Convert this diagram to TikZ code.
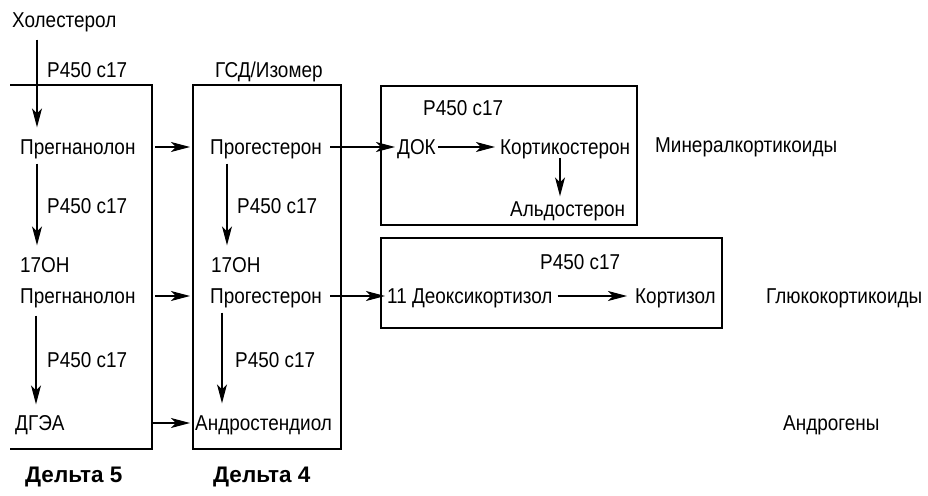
\documentclass[tikz,border=0pt]{standalone}
\usepackage{fontspec}
\setmainfont{Liberation Sans}[FakeStretch=0.88]
\newfontfamily\dfont{Liberation Sans}
\usetikzlibrary{arrows.meta}
\tikzset{
  txt/.style={anchor=west,inner sep=0pt,text height=15pt,text depth=0pt,font=\fontsize{21.5}{24}\selectfont},
  bold/.style={anchor=west,inner sep=0pt,text height=15pt,text depth=0pt,font=\dfont\bfseries\fontsize{22.5}{26}\selectfont},
  box/.style={line width=1.8pt},
  arr/.style={line width=1.1pt,-{Stealth[length=19pt,width=10pt,inset=5pt]}},
  varr/.style={arr,shorten <=9pt,shorten >=12pt}
}
\begin{document}
\begin{tikzpicture}[x=1pt,y=-1pt]
\useasboundingbox (0,0) rectangle (928,495);
% boxes
\draw[box] (10,85) -- (152,85) -- (152,449) -- (10,449);
\draw[box] (193,85) rectangle (341,449);
\draw[box] (381,86) rectangle (637,225);
\draw[box] (381,238) rectangle (722,328);
% column coordinates
\coordinate (v1) at (37,0);
\coordinate (v3) at (36,0);
\coordinate (v4) at (227,0);
\coordinate (v5) at (222,0);
\coordinate (v6) at (560,0);
\coordinate (hA) at (155,0);
\coordinate (hB) at (190,0);
\coordinate (hC) at (151,0);
\coordinate (hD) at (330,0);
\coordinate (hE) at (395,0);
\coordinate (hF) at (385,0);
% left column
\node[txt] (chol) at (12,20) {Холестерол};
\node[txt] (l1) at (47,70) {P450 c17};
\node[txt] (preg) at (20,147) {Прегнанолон};
\node[txt] (l2) at (47,206) {P450 c17};
\node[txt] (oh1) at (20,265) {17OH};
\node[txt] (preg2) at (20,296) {Прегнанолон};
\node[txt] (l3) at (47,360) {P450 c17};
\node[txt] (dhea) at (15,423) {ДГЭА};
\node[bold] (d5) at (25,475) {Дельта 5};
% middle column
\node[txt] (gsd) at (215,70) {ГСД/Изомер};
\node[txt] (prog) at (210,147) {Прогестерон};
\node[txt] (l4) at (237,206) {P450 c17};
\node[txt] (oh2) at (211,265) {17OH};
\node[txt] (prog2) at (210,296) {Прогестерон};
\node[txt] (l5) at (235,360) {P450 c17};
\node[txt] (andro) at (195,423) {Андростендиол};
\node[bold] (d4) at (213,475) {Дельта 4};
% right top box
\node[txt] (l6) at (423,108) {P450 c17};
\node[txt] (dok) at (397,147) {ДОК};
\node[txt] (cort) at (500,147) {Кортикостерон};
\node[txt] (aldo) at (510,209) {Альдостерон};
\node[txt] (mineral) at (655,145) {Минералкортикоиды};
% right bottom box
\node[txt] (l7) at (540,262) {P450 c17};
\node[txt] (deoxy) at (387,296) {11 Деоксикортизол};
\node[txt] (cortisol) at (635,296) {Кортизол};
\node[txt] (gluco) at (766,296) {Глюкокортикоиды};
\node[txt] (andg) at (783,423) {Андрогены};
% vertical arrows
\draw[arr,shorten <=12pt,shorten >=12pt] (v1 |- chol.south) -- (v1 |- preg.north);
\draw[varr] (v1 |- preg.south) -- (v1 |- oh1.north);
\draw[arr,shorten <=12pt,shorten >=11pt] (v3 |- preg2.south) -- (v3 |- dhea.north);
\draw[varr] (v4 |- prog.south) -- (v4 |- oh2.north);
\draw[varr] (v5 |- prog2.south) -- (v5 |- andro.north);
\draw[arr,shorten <=3pt,shorten >=5pt] (v6 |- cort.south) -- (v6 |- aldo.north);
% horizontal arrows
\draw[arr] (hA |- preg) -- (hB |- prog);
\draw[arr] (hA |- preg2) -- (hB |- prog2);
\draw[arr] (hC |- dhea) -- (hB |- andro);
\draw[arr] (hD |- prog) -- (hE |- dok);
\draw[arr] (hD |- prog2) -- (hF |- deoxy);
\draw[arr,shorten <=2pt,shorten >=5pt] (dok.east) -- (cort.west);
\draw[arr,shorten <=5pt,shorten >=8pt] (deoxy.east) -- (cortisol.west);
\end{tikzpicture}
\end{document}
